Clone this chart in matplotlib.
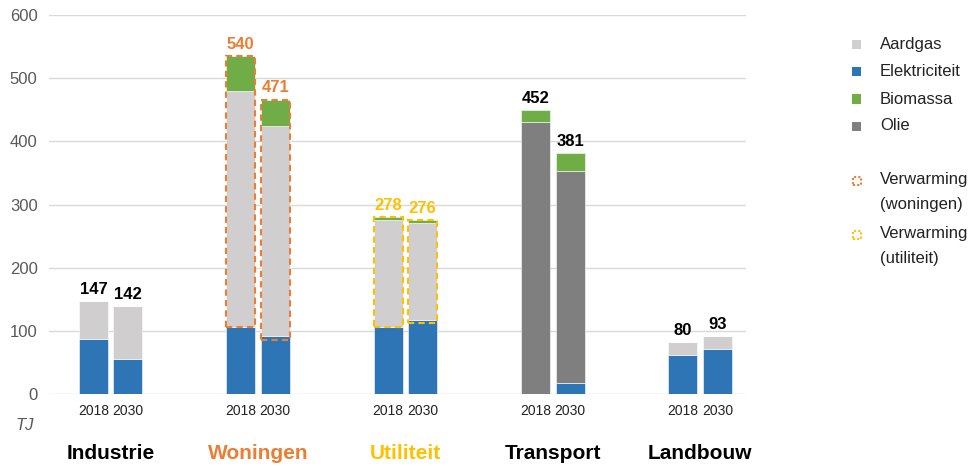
import matplotlib.pyplot as plt
from matplotlib.patches import Rectangle
from matplotlib.transforms import blended_transform_factory
import numpy as np

plt.rcParams['font.family'] = ['Liberation Sans', 'DejaVu Sans']

sectors = ['Industrie', 'Woningen', 'Utiliteit', 'Transport', 'Landbouw']
sector_colors = ['black', '#ED7D31', '#FFC000', 'black', 'black']
years = ['2018', '2030']

# segment values [TJ], per sector: (2018, 2030)
elektriciteit = np.array([[87, 55], [106, 92], [106, 117], [0, 18], [61, 71]])
aardgas = np.array([[60, 84], [374, 332], [169, 154], [0, 0], [21, 21]])
olie = np.array([[0, 0], [0, 0], [0, 0], [430, 335], [0, 0]])
biomassa = np.array([[0, 0], [55, 42], [5, 4], [19, 28], [0, 0]])
totals = [[147, 142], [540, 471], [278, 276], [452, 381], [80, 93]]

# heating part (dashed boxes): bottom / top
heat_sectors = [1, 2]
heat_bottom = np.array([[106, 85], [106, 113]])
heat_top = np.array([[535, 466], [281, 276]])

c_gas = '#D0CECE'
c_elek = '#2E75B6'
c_bio = '#70AD47'
c_olie = '#7F7F7F'

fig = plt.figure(figsize=(9.75, 4.66), dpi=100)
ax = fig.add_axes([0.050, 0.1545, 0.715, 0.8133])

offs = 0.117
w = 0.197
x = np.arange(len(sectors))
for k, dx in enumerate([-offs, offs]):
    xs = x + dx
    b = np.zeros(len(sectors))
    for vals, col in [(elektriciteit, c_elek), (aardgas, c_gas), (olie, c_olie), (biomassa, c_bio)]:
        ax.bar(xs, vals[:, k], w, bottom=b, color=col, edgecolor='white', linewidth=0.4, zorder=3)
        b = b + vals[:, k]
    for i in range(len(sectors)):
        ax.annotate(str(totals[i][k]), (xs[i], b[i]), xytext=(0, 3), textcoords='offset points',
                    ha='center', va='bottom', fontsize=12, fontweight='bold',
                    color=sector_colors[i] if i in heat_sectors else 'black', zorder=5)

for j, i in enumerate(heat_sectors):
    for k, dx in enumerate([-offs, offs]):
        r = Rectangle((i + dx - w / 2, heat_bottom[j, k]), w, heat_top[j, k] - heat_bottom[j, k],
                      fill=False, edgecolor=sector_colors[i], linestyle=(0, (3, 2)), linewidth=1.5, zorder=4)
        ax.add_patch(r)

ax.set_xlim(-0.42, 4.31)
ax.set_ylim(0, 600)
ax.set_yticks(range(0, 601, 100))
ax.yaxis.grid(True, color='#D9D9D9', linewidth=1)
ax.set_axisbelow(True)
for s in ax.spines.values():
    s.set_visible(False)
ax.tick_params(axis='y', length=0, labelsize=12, labelcolor='#595959', pad=8)

ticks = np.concatenate([x - offs, x + offs])
ax.set_xticks(ticks)
ax.set_xticklabels([years[0]] * len(x) + [years[1]] * len(x))
ax.tick_params(axis='x', length=0, labelsize=10, labelcolor='#222222', pad=7)

tr = blended_transform_factory(ax.transData, ax.transAxes)
for i, name in enumerate(sectors):
    ax.text(i, -0.156, name, transform=tr, ha='center', va='center', fontsize=15,
            fontweight='bold', color=sector_colors[i])
fig.text(25 / 975, 1 - 425 / 466, 'TJ', ha='center', va='center', fontsize=12,
         style='italic', color='#595959')

# legend drawn by hand
leg_items = [('Aardgas', c_gas, 44, False), ('Elektriciteit', c_elek, 71, False),
             ('Biomassa', c_bio, 99, False), ('Olie', c_olie, 126, False),
             ('Verwarming\n(woningen)', '#ED7D31', 181, True),
             ('Verwarming\n(utiliteit)', '#FFC000', 235, True)]
for label, col, ypx, dashed in leg_items:
    yf = 1 - ypx / 466
    if dashed:
        fig.add_artist(Rectangle((853 / 975, yf - 4 / 466), 8 / 975, 8 / 466, transform=fig.transFigure,
                                 fill=False, edgecolor=col, linestyle=(0, (1, 1)), linewidth=1.5))
        fig.text(880 / 975, yf + 9 / 466, label, ha='left', va='top', fontsize=12,
                 color='#222222', linespacing=1.85)
    else:
        fig.add_artist(Rectangle((852 / 975, yf - 4.5 / 466), 9 / 975, 9 / 466, transform=fig.transFigure,
                                 facecolor=col, edgecolor='none'))
        fig.text(880 / 975, yf, label, ha='left', va='center', fontsize=12, color='#222222')

fig.savefig('out.png', dpi=100)
